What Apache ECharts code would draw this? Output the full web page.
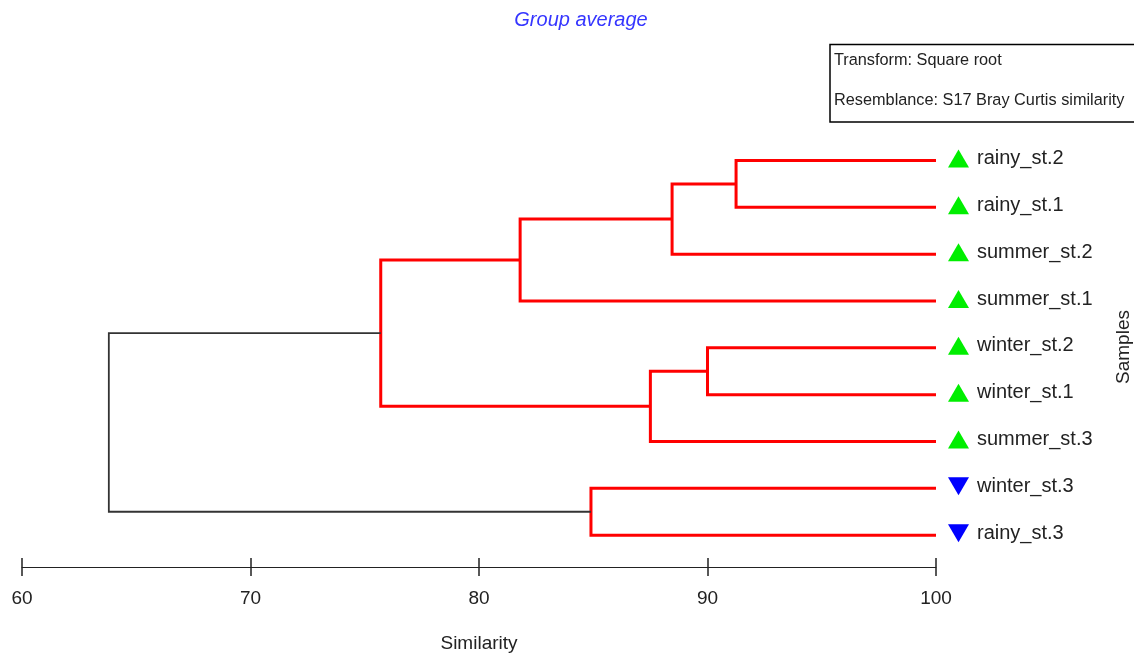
<!DOCTYPE html>
<html>
<head>
<meta charset="utf-8">
<script src="https://cdn.jsdelivr.net/npm/echarts@6/dist/echarts.min.js"></script>
<style>
  html, body { margin: 0; padding: 0; background: #fff; }
  #chart { width: 1134px; height: 655px; }
</style>
</head>
<body>
<div id="chart"></div>
<script>
// leaves, top to bottom
const leaves = ['rainy_st.2', 'rainy_st.1', 'summer_st.2', 'summer_st.1', 'winter_st.2',
  'winter_st.1', 'summer_st.3', 'winter_st.3', 'rainy_st.3'];
const leafMarker = ['up', 'up', 'up', 'up', 'up', 'up', 'up', 'down', 'down'];
// merges (node ids: leaves 0..8, merges 9..)
const mergeA = [0, 9, 10, 4, 12, 11, 7, 14];
const mergeB = [1, 2, 3, 5, 6, 13, 8, 15];
const mergeSim = [91.25, 88.45, 81.8, 90.0, 87.5, 75.7, 84.9, 63.8];

const font = "'Liberation Sans', Arial, sans-serif";

// node positions: x = similarity, y = leaf order
const nodeX = leaves.map(() => 100);
const nodeY = leaves.map((d, i) => i);
mergeSim.forEach((s, k) => {
  nodeX.push(s);
  nodeY.push((nodeY[mergeA[k]] + nodeY[mergeB[k]]) / 2);
});
const rootIdx = mergeSim.length - 1;
const branches = mergeSim.map((s, k) => {
  const a = mergeA[k], b = mergeB[k];
  return [nodeX[a], nodeY[a], s, nodeX[b], nodeY[b], k == rootIdx ? 1 : 0];
});

const chart = echarts.init(document.getElementById('chart'));
chart.setOption({
  animation: false,
  textStyle: { fontFamily: font },
  grid: { left: 22, right: 198, top: 160.5, bottom: 88, outerBoundsMode: 'none', containLabel: false },
  xAxis: [
    {
      type: 'value', min: 60, max: 100, interval: 10, position: 'bottom',
      name: 'Similarity', nameLocation: 'middle', nameGap: 67,
      nameTextStyle: { fontSize: 19, color: '#222', fontFamily: font },
      axisLine: { show: true, onZero: false, lineStyle: { color: '#222', width: 1 } },
      axisTick: { show: true, inside: false, length: 9, lineStyle: { color: '#222', width: 1.5 } },
      axisLabel: { fontSize: 19, color: '#222', margin: 22, fontFamily: font },
      splitLine: { show: false }
    },
    {
      type: 'value', min: 60, max: 100, interval: 10, position: 'bottom',
      axisLine: { show: false, onZero: false },
      axisTick: { show: true, inside: true, length: 9, lineStyle: { color: '#222', width: 1.5 } },
      axisLabel: { show: false },
      splitLine: { show: false }
    }
  ],
  yAxis: { type: 'value', inverse: true, min: 0, max: 8.68, show: false },
  series: [
    {
      type: 'custom',
      data: branches,
      renderItem: (params, api) => {
        const p1 = api.coord([api.value(0), api.value(1)]);
        const p2 = api.coord([api.value(2), api.value(1)]);
        const p3 = api.coord([api.value(2), api.value(4)]);
        const p4 = api.coord([api.value(3), api.value(4)]);
        const root = api.value(5) == 1;
        return {
          type: 'polyline',
          shape: { points: [p1, p2, p3, p4] },
          style: {
            stroke: root ? '#333' : '#ff0000',
            lineWidth: root ? 1.8 : 3,
            fill: null,
            lineJoin: 'miter'
          }
        };
      }
    },
    {
      type: 'scatter',
      clip: false,
      data: leaves.map((name, i) => ({
        value: [100, i],
        name,
        symbolRotate: leafMarker[i] == 'up' ? 0 : 180,
        itemStyle: { color: leafMarker[i] == 'up' ? '#00ee00' : '#0000ff', opacity: 1 }
      })),
      symbol: 'triangle',
      symbolSize: [21, 18],
      symbolOffset: [22.5, -2],
      label: {
        show: true, position: 'right', distance: 8,
        formatter: p => p.name,
        fontSize: 20, color: '#222', fontFamily: font
      }
    }
  ],
  graphic: [
    {
      type: 'text', x: 581, y: 20,
      style: {
        text: 'Group average', fontSize: 20, fontStyle: 'italic', fontFamily: font,
        fill: '#3535ff', align: 'center', verticalAlign: 'middle'
      }
    },
    {
      type: 'rect',
      shape: { x: 830, y: 44.5, width: 320, height: 77.5 },
      style: { fill: '#fff', stroke: '#000', lineWidth: 1.5 }
    },
    {
      type: 'text', x: 834, y: 61,
      style: { text: 'Transform: Square root', fontSize: 16.3, fontFamily: font, fill: '#222', verticalAlign: 'middle' }
    },
    {
      type: 'text', x: 834, y: 101,
      style: { text: 'Resemblance: S17 Bray Curtis similarity', fontSize: 16.3, fontFamily: font, fill: '#222', verticalAlign: 'middle' }
    },
    {
      type: 'text', x: 1124, y: 347, rotation: Math.PI / 2,
      style: { text: 'Samples', fontSize: 19, fontFamily: font, fill: '#222', align: 'center', verticalAlign: 'middle' }
    }
  ]
});
</script>
</body>
</html>
